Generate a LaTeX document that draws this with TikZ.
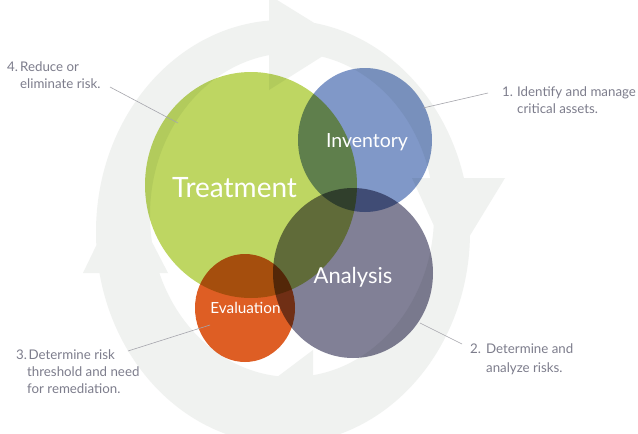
\documentclass[tikz,border=0pt]{standalone}
\usepackage{fontspec}
\setmainfont{Lato}
\definecolor{ringgray}{RGB}{240,242,240}
\definecolor{tgreen}{RGB}{190,214,98}
\definecolor{iblue}{RGB}{128,152,200}
\definecolor{apurple}{RGB}{129,128,150}
\definecolor{eorange}{RGB}{222,94,36}
\definecolor{labelgray}{RGB}{125,125,140}
\definecolor{leadergray}{RGB}{165,165,172}
\begin{document}
\begin{tikzpicture}[x=1pt,y=-1pt,
  lbl/.style={font=\fontsize{13.3}{17}\selectfont, text=labelgray, inner sep=0pt, anchor=base west},
  big/.style={text=white, inner sep=0pt, anchor=base},
  leader/.style={draw=leadergray, line width=0.6pt}]
\useasboundingbox (0,0) rectangle (638,434);
\fill[white] (0,0) rectangle (638,434);
\clip (0,0) rectangle (638,434);
\begin{scope}[blend group=multiply]
  % background cycle ring with four arrowheads
  \fill[ringgray, nonzero rule]
    (470,232) arc[start angle=0, end angle=360, x radius=187, y radius=212]
    (434,215) arc[start angle=360, end angle=0, x radius=142, y radius=162]
    (269,-5) -- (345,42) -- (269,90) -- cycle
    (412,178) -- (505,178) -- (452,265) -- cycle
    (313,448) -- (240,405) -- (313,350) -- cycle
    (168,273) -- (83,273) -- (124,188) -- cycle;
  % circles
  \fill[tgreen] (251,185) ellipse[x radius=106, y radius=113];
  \fill[iblue] (365,140) ellipse[x radius=67, y radius=72];
  \fill[apurple] (353,273) ellipse[x radius=80, y radius=85];
  \fill[eorange] (245,308) ellipse[x radius=50, y radius=54];
\end{scope}
% circle titles
\node[big, font=\fontsize{28}{30}\selectfont] (treat) at (234.5,197) {Treatment};
\node[big, font=\fontsize{19.5}{22}\selectfont] (inv) at (367,147) {Inventory};
\node[big, font=\fontsize{22}{24}\selectfont] (ana) at (353,283) {Analysis};
\node[big, font=\fontsize{15.3}{17}\selectfont] (eva) at (245.5,313) {Evaluation};
% labels
\node[lbl] (lab1) at (502,96) {\begin{tabular}[t]{@{}l@{}}\makebox[15pt][l]{1.}Identify and manage\\\hspace*{15pt}critical assets.\end{tabular}};
\node[lbl] (lab2) at (470,353) {\begin{tabular}[t]{@{}l@{}}\makebox[16pt][l]{2.}Determine and\\[2pt]\hspace*{16pt}analyze risks.\end{tabular}};
\node[lbl] (lab3) at (16,359) {\begin{tabular}[t]{@{}l@{}}\makebox[12.5pt][l]{3.}Determine risk\\\hspace*{11pt}threshold and need\\\hspace*{11pt}for remediation.\end{tabular}};
\node[lbl] (lab4) at (7,71) {\begin{tabular}[t]{@{}l@{}}\makebox[13pt][l]{4.}Reduce or\\\hspace*{13pt}eliminate risk.\end{tabular}};
% leader line ends
\coordinate (p1) at (423,108);
\coordinate (p2) at (420,323);
\coordinate (p3) at (210,325);
\coordinate (p4) at (178,123);
\draw[leader] ([shift={(-14,-3)}]lab1.base west) -- (p1);
\draw[leader] ([shift={(-8,-9)}]lab2.base west) -- (p2);
\draw[leader] ([shift={(112,-8)}]lab3.base west) -- (p3);
\draw[leader] ([shift={(103,16)}]lab4.base west) -- (p4);
\end{tikzpicture}
\end{document}
